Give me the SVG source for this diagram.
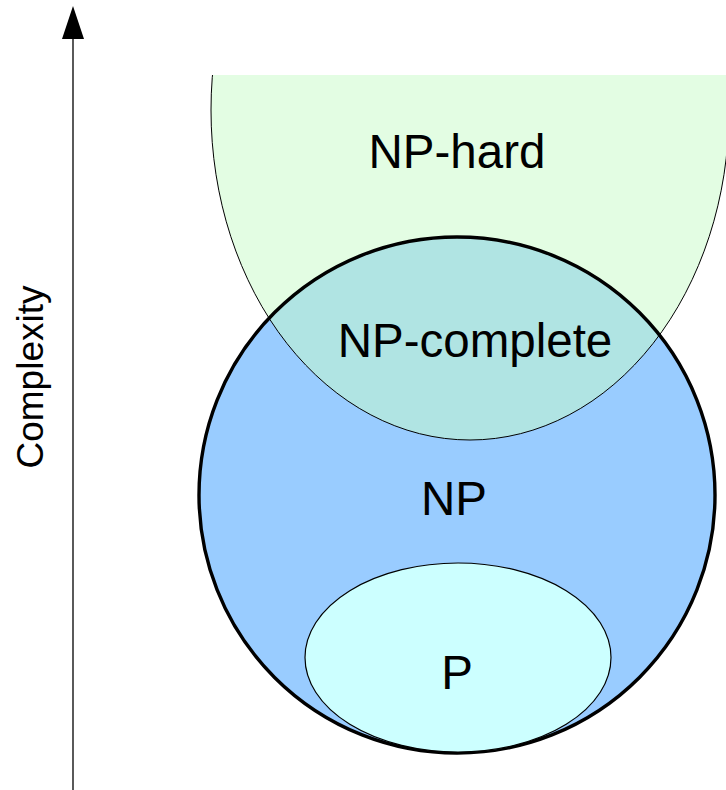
<svg xmlns="http://www.w3.org/2000/svg" width="726" height="790" viewBox="0 0 726 790">
  <style>
    .lbl { font-family: "Liberation Sans", Arial, sans-serif; font-size: 47.5px; fill: #000; text-anchor: middle; }
    .thin { stroke: #000; stroke-width: 1; }
  </style>
  <defs>
    <clipPath id="topcut">
      <rect x="0" y="75" width="726" height="715"/>
    </clipPath>
    <marker id="arrowhead" markerWidth="34" markerHeight="22" refX="0" refY="11" orient="auto" markerUnits="userSpaceOnUse" viewBox="0 0 34 22">
      <path d="M0,0 L33,11 L0,22 Z" fill="#000"/>
    </marker>
  </defs>
  <rect width="726" height="790" fill="#fff"/>

  <g id="np">
    <circle cx="457" cy="495" r="258" fill="#99ccff"/>
  </g>

  <g id="np-hard">
    <ellipse cx="470" cy="110" rx="259" ry="330" fill="#c7fbc7" fill-opacity="0.5" class="thin" clip-path="url(#topcut)"/>
    <text class="lbl" x="457" y="168">NP-hard</text>
  </g>

  <g id="np-outline">
    <circle cx="457" cy="495" r="258" fill="none" stroke="#000" stroke-width="3.4"/>
    <text class="lbl" x="454" y="515">NP</text>
  </g>

  <g id="np-complete">
    <text class="lbl" x="475" y="357">NP-complete</text>
  </g>

  <g id="p">
    <ellipse cx="458" cy="657.5" rx="153" ry="94.5" fill="#ccffff" stroke="#000" stroke-width="1.2"/>
    <text class="lbl" x="457" y="689">P</text>
  </g>

  <g id="connectors">
    <line id="axis" x1="73" y1="790" x2="73" y2="39" stroke="#000" stroke-width="1.3" marker-end="url(#arrowhead)"/>
  </g>

  <g id="axis-label">
    <text x="0" y="0" transform="translate(43,377) rotate(-90)" style="font-family: 'Liberation Sans', Arial, sans-serif; font-size: 37px; fill: #000; text-anchor: middle;">Complexity</text>
  </g>
</svg>
